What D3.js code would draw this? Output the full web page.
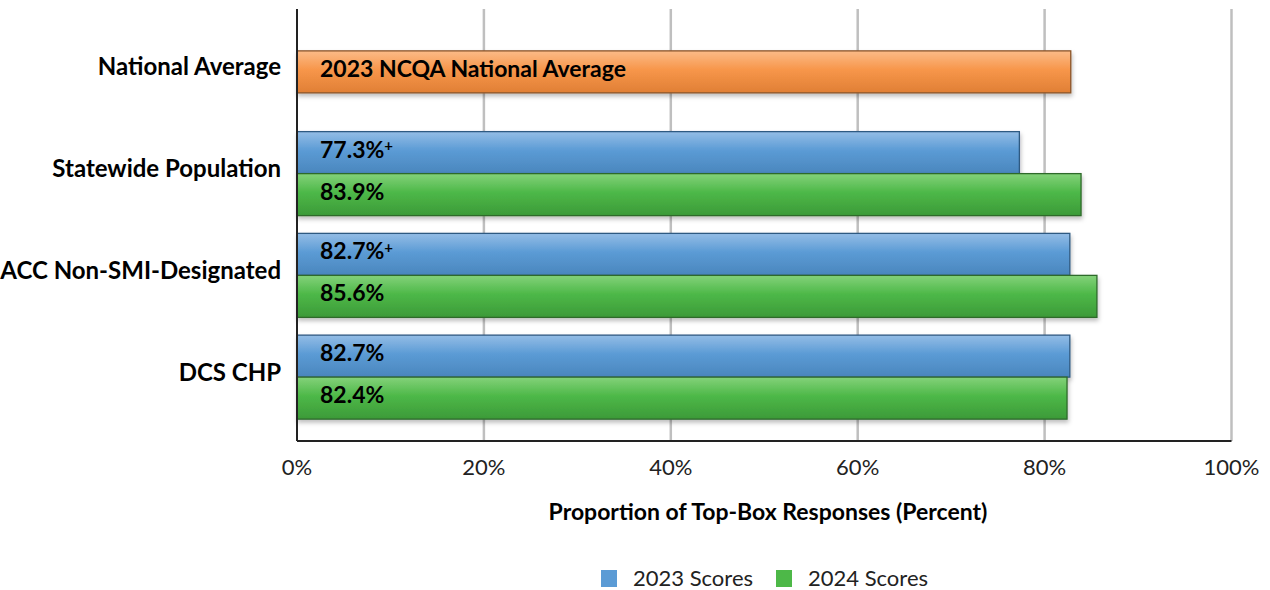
<!DOCTYPE html>
<html>
<head>
<meta charset="utf-8">
<script src="https://cdn.jsdelivr.net/npm/d3@7"></script>
<style>
  body { margin: 0; background: #fff; }
  text { font-family: Lato, "Open Sans", sans-serif; fill: #000; }
</style>
</head>
<body>
<div class="center"></div>
<script>
// chart values
const categories = ["National Average", "Statewide Population", "ACC Non-SMI-Designated", "DCS CHP"];
const scores2023 = [null, 77.3, 82.7, 82.7];
const scores2024 = [null, 83.9, 85.6, 82.4];
const marks2023 = ["", "+", "+", ""];
const nationalAverage = 82.8;
const nationalLabel = "2023 NCQA National Average";
const xTicks = [0, 20, 40, 60, 80, 100];
const seriesNames = ["2023 Scores", "2024 Scores"];

const width = 1270, height = 590;
const plot = {left: 297, right: 1231.5, top: 9, bottom: 441};

const svg = d3.select(".center").append("svg")
    .attr("width", width)
    .attr("height", height);

// gradients for the bevelled bars
const defs = svg.append("defs");
function grad(id, light, base, dark) {
  const g = defs.append("linearGradient").attr("id", id)
      .attr("x1", 0).attr("y1", 0).attr("x2", 0).attr("y2", 1);
  g.append("stop").attr("offset", "0%").attr("stop-color", light);
  g.append("stop").attr("offset", "45%").attr("stop-color", base);
  g.append("stop").attr("offset", "100%").attr("stop-color", dark);
}
grad("gBlue", "#94bde6", "#5b9bd5", "#4a86bd");
grad("gGreen", "#84d27a", "#4db848", "#3c9a38");
grad("gOrange", "#fbbb88", "#f7964a", "#e07f35");

const shadow = defs.append("filter").attr("id", "shadow")
    .attr("x", "-5%").attr("y", "-20%").attr("width", "110%").attr("height", "160%");
shadow.append("feDropShadow").attr("dx", 1).attr("dy", 3).attr("stdDeviation", 2)
    .attr("flood-color", "#000").attr("flood-opacity", 0.25);

// scales
const xScale = d3.scaleLinear().domain([0, 100]).range([plot.left, plot.right]);
const yScale = d3.scaleBand().domain(categories).range([21, 428]);
const barH = 42;

// gridlines
svg.append("g")
    .selectAll("line")
    .data(xTicks.filter(d => d > 0))
    .enter().append("line")
    .attr("x1", d => xScale(d)).attr("x2", d => xScale(d))
    .attr("y1", plot.top).attr("y2", plot.bottom)
    .style("stroke", "#bfbfbf")
    .style("stroke-width", 2.5);

// bars
const bars = [];
categories.forEach((c, i) => {
  const cy = yScale(c) + yScale.bandwidth() / 2;
  if (scores2023[i] == null) {
    bars.push({v: nationalAverage, y: cy - barH / 2, fill: "url(#gOrange)", stroke: "#8a5428", label: nationalLabel, mark: ""});
  } else {
    bars.push({v: scores2023[i], y: cy - barH, fill: "url(#gBlue)", stroke: "#2f5a82", label: scores2023[i].toFixed(1) + "%", mark: marks2023[i]});
    bars.push({v: scores2024[i], y: cy, fill: "url(#gGreen)", stroke: "#2e6a2b", label: scores2024[i].toFixed(1) + "%", mark: ""});
  }
});

svg.append("g").selectAll("rect")
    .data(bars)
    .enter().append("rect")
    .attr("x", xScale(0))
    .attr("y", d => d.y)
    .attr("width", d => xScale(d.v) - xScale(0))
    .attr("height", barH)
    .style("fill", d => d.fill)
    .style("stroke", d => d.stroke)
    .style("stroke-width", 1.3)
    .attr("filter", "url(#shadow)");

const labels = svg.append("g").selectAll("text")
    .data(bars)
    .enter().append("text")
    .attr("x", xScale(0) + 23)
    .attr("y", d => d.y + barH / 2 - 3)
    .attr("dy", "0.35em")
    .style("font-size", "23px")
    .style("font-weight", "700");
labels.append("tspan").text(d => d.label);
labels.append("tspan")
    .text(d => d.mark)
    .attr("dy", "-0.45em")
    .style("font-size", "15px");

// axes lines
svg.append("line")
    .attr("x1", plot.left).attr("x2", plot.left)
    .attr("y1", plot.top).attr("y2", plot.bottom)
    .style("stroke", "#222").style("stroke-width", 2);
svg.append("line")
    .attr("x1", plot.left).attr("x2", plot.right)
    .attr("y1", plot.bottom).attr("y2", plot.bottom)
    .style("stroke", "#222").style("stroke-width", 2);

// category labels
svg.append("g").selectAll("text")
    .data(categories)
    .enter().append("text")
    .attr("x", 281)
    .attr("y", d => yScale(d) + yScale.bandwidth() / 2 - 5)
    .attr("dy", "0.35em")
    .attr("text-anchor", "end")
    .style("font-size", "24px")
    .style("font-weight", "700")
    .text(d => d);

// tick labels
svg.append("g").selectAll("text")
    .data(xTicks)
    .enter().append("text")
    .attr("x", d => xScale(d))
    .attr("y", 467)
    .attr("dy", "0.35em")
    .attr("text-anchor", "middle")
    .style("font-size", "22px")
    .style("fill", "#222")
    .text(d => d + "%");

// axis title
svg.append("text")
    .attr("x", 768)
    .attr("y", 512)
    .attr("dy", "0.35em")
    .attr("text-anchor", "middle")
    .style("font-size", "23px")
    .style("font-weight", "700")
    .text("Proportion of Top-Box Responses (Percent)");

// legend
const legendColors = ["#5b9bd5", "#4db848"];
const legendX = [601, 776];
seriesNames.forEach((s, i) => {
  svg.append("rect")
      .attr("x", legendX[i]).attr("y", 570)
      .attr("width", 16).attr("height", 17)
      .style("fill", legendColors[i]);
  svg.append("text")
      .attr("x", legendX[i] + 32).attr("y", 578)
      .attr("dy", "0.35em")
      .style("font-size", "22px")
      .style("fill", "#222")
      .text(s);
});
</script>
</body>
</html>
